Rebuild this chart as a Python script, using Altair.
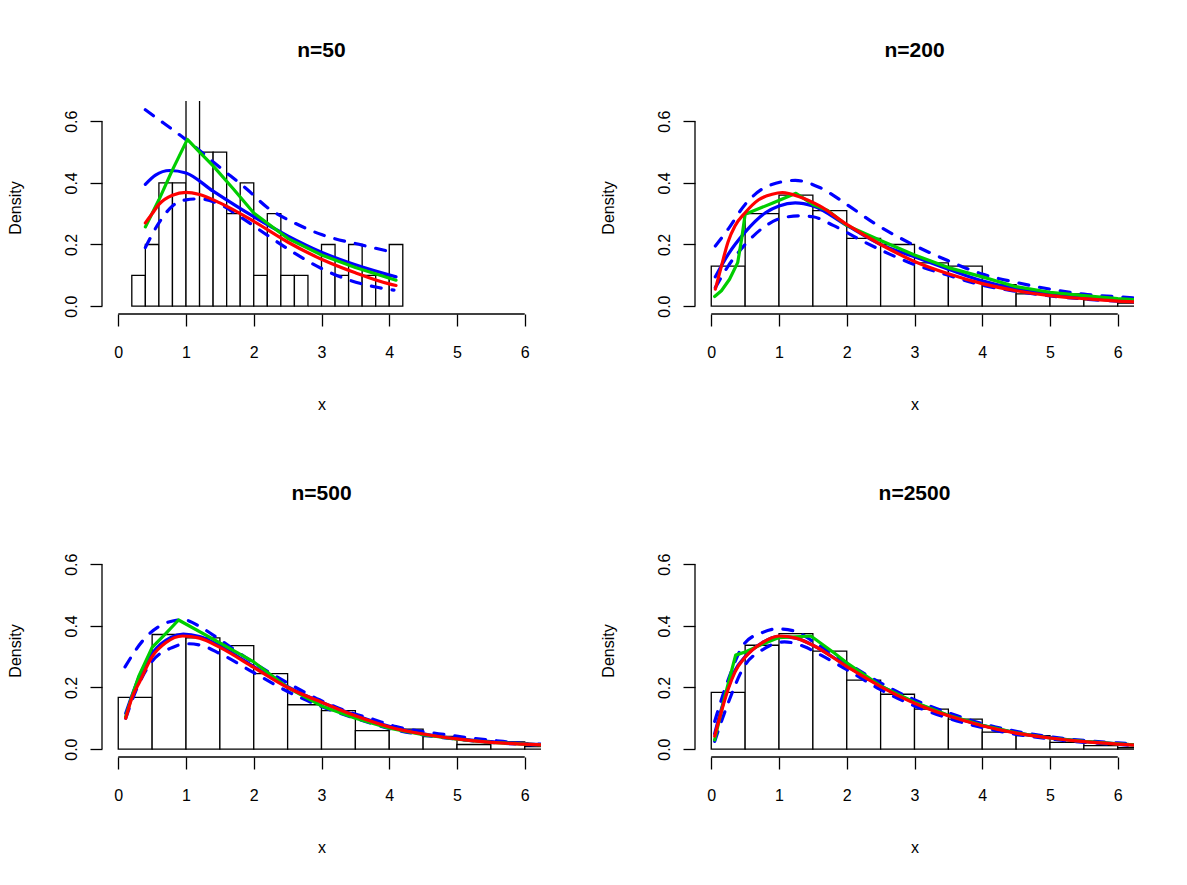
import altair as alt
import pandas as pd

FONT = "Liberation Sans"
TITLES = ["n=50", "n=200", "n=500", "n=2500"]

# histogram bins (left, right edges) and densities
P1_LEFT = [0.2, 0.4, 0.6, 0.8, 1.0, 1.2, 1.4, 1.6, 1.8, 2.0, 2.2, 2.4, 2.6, 2.8, 3.0, 3.2, 3.4, 3.6, 3.8, 4.0]
P1_RIGHT = [0.4, 0.6, 0.8, 1.0, 1.2, 1.4, 1.6, 1.8, 2.0, 2.2, 2.4, 2.6, 2.8, 3.0, 3.2, 3.4, 3.6, 3.8, 4.0, 4.2]
P1_DENS = [0.1, 0.2, 0.4, 0.4, 0.7, 0.5, 0.5, 0.3, 0.4, 0.1, 0.3, 0.1, 0.1, 0.0, 0.2, 0.1, 0.2, 0.1, 0.1, 0.2]

H_LEFT = [0.0, 0.5, 1.0, 1.5, 2.0, 2.5, 3.0, 3.5, 4.0, 4.5, 5.0, 5.5, 6.0]
H_RIGHT = [0.5, 1.0, 1.5, 2.0, 2.5, 3.0, 3.5, 4.0, 4.5, 5.0, 5.5, 6.0, 6.5]
P2_DENS = [0.13, 0.30, 0.36, 0.31, 0.22, 0.20, 0.14, 0.13, 0.07, 0.04, 0.04, 0.02, 0.01]
P3_DENS = [0.168, 0.372, 0.361, 0.336, 0.245, 0.144, 0.125, 0.060, 0.065, 0.041, 0.015, 0.023, 0.008]
P4_DENS = [0.184, 0.337, 0.375, 0.318, 0.224, 0.178, 0.130, 0.097, 0.055, 0.044, 0.022, 0.011, 0.005]

# curves: red = true density, blue = estimate, blue dashed = bands, green = other estimate
P1_RED_X = [0.4, 0.5, 0.6, 0.8, 1.0, 1.2, 1.5, 2.0, 2.5, 3.0, 3.5, 4.0, 4.1]
P1_RED_Y = [0.27, 0.30, 0.33, 0.36, 0.369, 0.362, 0.335, 0.275, 0.208, 0.152, 0.108, 0.072, 0.067]
P1_BLUE_X = [0.4, 0.55, 0.76, 1.0, 1.4, 2.0, 2.5, 3.0, 3.5, 4.1]
P1_BLUE_Y = [0.395, 0.425, 0.44, 0.432, 0.373, 0.29, 0.228, 0.175, 0.134, 0.095]
P1_GREEN_X = [0.4, 0.6, 0.8, 1.02, 1.2, 1.4, 1.7, 2.0, 2.5, 3.0, 3.5, 4.1]
P1_GREEN_Y = [0.257, 0.345, 0.442, 0.541, 0.50, 0.455, 0.38, 0.302, 0.22, 0.166, 0.125, 0.084]
P1_HI_X = [0.4, 0.6, 0.8, 1.0, 1.2, 1.5, 1.9, 2.2, 2.6, 3.0, 3.6, 4.07]
P1_HI_Y = [0.637, 0.605, 0.573, 0.54, 0.505, 0.45, 0.379, 0.32, 0.27, 0.232, 0.198, 0.174]
P1_LO_X = [0.4, 0.6, 0.8, 1.0, 1.2, 1.5, 1.8, 2.2, 2.6, 3.0, 3.4, 3.8, 4.07]
P1_LO_Y = [0.19, 0.27, 0.325, 0.345, 0.348, 0.33, 0.29, 0.23, 0.172, 0.122, 0.085, 0.062, 0.052]

P2_RED_X = [0.06, 0.15, 0.25, 0.35, 0.5, 0.7, 0.9, 1.05, 1.3, 1.6, 2.0, 2.5, 3.0, 3.5, 4.0, 4.5, 5.0, 5.5, 6.0, 6.3]
P2_RED_Y = [0.055, 0.13, 0.21, 0.26, 0.303, 0.345, 0.363, 0.368, 0.355, 0.325, 0.265, 0.2, 0.145, 0.105, 0.073, 0.05, 0.034, 0.024, 0.016, 0.013]
P2_BLUE_X = [0.06, 0.25, 0.5, 0.8, 1.0, 1.24, 1.5, 2.0, 2.5, 3.0, 3.5, 4.0, 4.5, 5.0, 5.5, 6.0, 6.3]
P2_BLUE_Y = [0.095, 0.168, 0.24, 0.303, 0.325, 0.335, 0.325, 0.262, 0.2, 0.16, 0.12, 0.082, 0.056, 0.04, 0.027, 0.019, 0.016]
P2_GREEN_X = [0.05, 0.15, 0.27, 0.39, 0.45, 0.5, 0.9, 1.25, 1.5, 1.72, 2.0, 2.5, 3.0, 3.5, 4.0, 4.5, 5.0, 5.5, 6.0, 6.3]
P2_GREEN_Y = [0.031, 0.05, 0.087, 0.141, 0.22, 0.298, 0.334, 0.366, 0.33, 0.31, 0.262, 0.213, 0.166, 0.125, 0.095, 0.063, 0.045, 0.034, 0.024, 0.02]
P2_HI_X = [0.06, 0.25, 0.5, 0.83, 1.24, 1.6, 2.0, 2.4, 3.0, 3.5, 4.0, 4.5, 5.0, 5.5, 6.0, 6.3]
P2_HI_Y = [0.195, 0.25, 0.33, 0.389, 0.408, 0.385, 0.33, 0.27, 0.197, 0.147, 0.104, 0.077, 0.055, 0.039, 0.03, 0.026]
P2_LO_X = [0.06, 0.25, 0.5, 0.8, 1.0, 1.3, 1.5, 1.8, 2.2, 2.6, 3.0, 3.5, 4.0, 4.5, 5.0, 5.5, 6.0, 6.3]
P2_LO_Y = [0.06, 0.13, 0.2, 0.26, 0.283, 0.293, 0.29, 0.262, 0.215, 0.172, 0.135, 0.1, 0.068, 0.048, 0.033, 0.023, 0.016, 0.014]

P3_RED_X = [0.11, 0.2, 0.32, 0.5, 0.7, 0.95, 1.2, 1.5, 2.0, 2.5, 3.0, 3.5, 4.0, 4.5, 5.0, 5.5, 6.0, 6.3]
P3_RED_Y = [0.10, 0.165, 0.22, 0.30, 0.345, 0.367, 0.36, 0.33, 0.265, 0.2, 0.152, 0.108, 0.072, 0.049, 0.033, 0.022, 0.016, 0.013]
P3_BLUE_X = [0.11, 0.32, 0.52, 0.77, 0.96, 1.2, 1.5, 2.0, 2.5, 3.0, 3.5, 4.0, 4.5, 5.0, 5.5, 6.0, 6.3]
P3_BLUE_Y = [0.116, 0.24, 0.316, 0.362, 0.373, 0.365, 0.335, 0.268, 0.203, 0.152, 0.11, 0.074, 0.05, 0.034, 0.024, 0.017, 0.014]
P3_GREEN_X = [0.11, 0.2, 0.3, 0.5, 0.7, 0.89, 1.5, 2.0, 2.5, 3.0, 3.5, 4.0, 4.5, 5.0, 5.5, 6.0, 6.3]
P3_GREEN_Y = [0.105, 0.17, 0.235, 0.33, 0.375, 0.419, 0.345, 0.283, 0.2, 0.14, 0.1, 0.068, 0.047, 0.032, 0.022, 0.016, 0.013]
P3_HI_X = [0.1, 0.37, 0.69, 0.96, 1.23, 1.5, 2.0, 2.5, 2.97, 3.41, 3.76, 4.1, 4.5, 4.83, 5.2, 5.55, 5.95, 6.3]
P3_HI_Y = [0.267, 0.354, 0.408, 0.42, 0.394, 0.355, 0.28, 0.215, 0.16, 0.12, 0.097, 0.073, 0.057, 0.047, 0.036, 0.028, 0.019, 0.016]
P3_LO_X = [0.11, 0.3, 0.5, 0.8, 1.0, 1.2, 1.5, 2.0, 2.5, 3.0, 3.5, 4.0, 4.5, 5.0, 5.5, 6.0, 6.3]
P3_LO_Y = [0.10, 0.21, 0.285, 0.33, 0.342, 0.338, 0.31, 0.248, 0.187, 0.138, 0.1, 0.067, 0.046, 0.032, 0.022, 0.015, 0.013]

P4_RED_X = [0.05, 0.15, 0.25, 0.35, 0.5, 0.75, 1.0, 1.25, 1.5, 2.0, 2.5, 3.0, 3.5, 4.0, 4.5, 5.0, 5.5, 6.0, 6.3]
P4_RED_Y = [0.042, 0.122, 0.195, 0.25, 0.298, 0.345, 0.367, 0.36, 0.337, 0.268, 0.203, 0.149, 0.108, 0.076, 0.052, 0.036, 0.024, 0.016, 0.012]
P4_BLUE_X = [0.05, 0.15, 0.25, 0.35, 0.5, 0.75, 1.0, 1.25, 1.5, 2.0, 2.5, 3.0, 3.5, 4.0, 4.5, 5.0, 5.5, 6.0, 6.3]
P4_BLUE_Y = [0.05, 0.13, 0.2, 0.255, 0.3, 0.345, 0.366, 0.36, 0.337, 0.27, 0.205, 0.151, 0.109, 0.077, 0.053, 0.037, 0.025, 0.017, 0.013]
P4_GREEN_X = [0.05, 0.2, 0.36, 0.5, 0.75, 1.0, 1.47, 1.82, 2.0, 2.5, 3.0, 3.5, 4.0, 4.5, 5.0, 5.5, 6.0, 6.3]
P4_GREEN_Y = [0.03, 0.17, 0.305, 0.315, 0.34, 0.362, 0.367, 0.311, 0.28, 0.205, 0.152, 0.11, 0.077, 0.053, 0.036, 0.025, 0.017, 0.013]
P4_HI_X = [0.05, 0.25, 0.49, 0.75, 0.96, 1.23, 1.5, 2.0, 2.5, 2.9, 3.5, 4.0, 4.5, 5.0, 5.5, 6.0, 6.3]
P4_HI_Y = [0.09, 0.225, 0.343, 0.378, 0.39, 0.383, 0.35, 0.28, 0.215, 0.17, 0.118, 0.083, 0.058, 0.04, 0.028, 0.02, 0.016]
P4_LO_X = [0.05, 0.25, 0.49, 0.74, 1.08, 1.37, 1.62, 2.0, 2.5, 3.0, 3.5, 4.0, 4.5, 5.0, 5.5, 6.0, 6.3]
P4_LO_Y = [0.025, 0.15, 0.27, 0.32, 0.348, 0.333, 0.305, 0.258, 0.193, 0.14, 0.1, 0.07, 0.048, 0.033, 0.022, 0.015, 0.011]

X_TICKS = [0, 1, 2, 3, 4, 5, 6]
Y_TICKS = [0.0, 0.1, 0.2, 0.3, 0.4, 0.5, 0.6]

PANELS = [
    dict(title=TITLES[0], left=P1_LEFT, right=P1_RIGHT, dens=P1_DENS,
         red=(P1_RED_X, P1_RED_Y), blue=(P1_BLUE_X, P1_BLUE_Y), green=(P1_GREEN_X, P1_GREEN_Y),
         hi=(P1_HI_X, P1_HI_Y), lo=(P1_LO_X, P1_LO_Y)),
    dict(title=TITLES[1], left=H_LEFT, right=H_RIGHT, dens=P2_DENS,
         red=(P2_RED_X, P2_RED_Y), blue=(P2_BLUE_X, P2_BLUE_Y), green=(P2_GREEN_X, P2_GREEN_Y),
         hi=(P2_HI_X, P2_HI_Y), lo=(P2_LO_X, P2_LO_Y)),
    dict(title=TITLES[2], left=H_LEFT, right=H_RIGHT, dens=P3_DENS,
         red=(P3_RED_X, P3_RED_Y), blue=(P3_BLUE_X, P3_BLUE_Y), green=(P3_GREEN_X, P3_GREEN_Y),
         hi=(P3_HI_X, P3_HI_Y), lo=(P3_LO_X, P3_LO_Y)),
    dict(title=TITLES[3], left=H_LEFT, right=H_RIGHT, dens=P4_DENS,
         red=(P4_RED_X, P4_RED_Y), blue=(P4_BLUE_X, P4_BLUE_Y), green=(P4_GREEN_X, P4_GREEN_Y),
         hi=(P4_HI_X, P4_HI_Y), lo=(P4_LO_X, P4_LO_Y)),
]

W, H = 439, 213
XMIN, XMAX = -0.24, 6.24
YMIN, YMAX = -0.0256, 0.6656

xscale = alt.Scale(domain=[XMIN, XMAX], nice=False, zero=False)
yscale = alt.Scale(domain=[YMIN, YMAX], nice=False, zero=False)

xaxis = alt.Axis(values=X_TICKS, format="d", title="x", domain=False, grid=False,
                 tickSize=12, tickWidth=1.3, tickColor="black",
                 labelFont=FONT, labelFontSize=16, labelColor="black", labelPadding=18,
                 labelFlush=False, labelOverlap=False,
                 titleFont=FONT, titleFontSize=16, titleFontWeight="normal", titleColor="black",
                 titleX=W / 2, titleY=90, titleBaseline="middle", titleAlign="center")
yaxis = alt.Axis(values=Y_TICKS, title="Density", domain=False, grid=False,
                 labelExpr="round(datum.value*10) % 2 == 0 ? format(datum.value, '.1f') : ''",
                 tickSize=12, tickWidth=1.3, tickColor="black",
                 labelFont=FONT, labelFontSize=16, labelColor="black", labelPadding=14,
                 labelAngle=270, labelAlign="center", labelBaseline="alphabetic",
                 labelFlush=False, labelOverlap=False,
                 titleFont=FONT, titleFontSize=16, titleFontWeight="normal", titleColor="black",
                 titleAngle=270, titleX=-87, titleY=H / 2, titleBaseline="middle", titleAlign="center")


def X(field):
    return alt.X(field, type="quantitative", scale=xscale, axis=xaxis)


def Y(field):
    return alt.Y(field, type="quantitative", scale=yscale, axis=yaxis)


def panel(p):
    hist = pd.DataFrame({"x0": p["left"], "x1": p["right"], "d": p["dens"]})
    bars = alt.Chart(hist).mark_rect(fill="white", stroke="black", strokeWidth=1.3, clip=True).encode(
        x=X("x0"), x2="x1", y=Y("d"), y2=alt.datum(0)
    )
    rows = []
    for key in ["lo", "hi", "blue", "green", "red"]:
        xs, ys = p[key]
        for i, (a, b) in enumerate(zip(xs, ys)):
            rows.append({"curve": key, "i": i, "x": a, "y": b})
    cdf = pd.DataFrame(rows)

    def line(keys, color, dash=None, interp="monotone"):
        kw = dict(color=color, strokeWidth=3.2, clip=True, interpolate=interp,
                  strokeCap="round", strokeJoin="round")
        if dash:
            kw["strokeDash"] = dash
        return alt.Chart(cdf).transform_filter(
            alt.FieldOneOfPredicate(field="curve", oneOf=keys)
        ).mark_line(**kw).encode(x=X("x"), y=Y("y"), detail="curve:N", order="i:Q")

    dashed = line(["lo", "hi"], "#0000FF", dash=[10, 11])
    blue = line(["blue"], "#0000FF")
    green = line(["green"], "#00CD00", interp="linear")
    red = line(["red"], "#FF0000")

    xline = alt.Chart(pd.DataFrame({"a": [X_TICKS[0]], "b": [X_TICKS[-1]]})).mark_rule(
        color="black", strokeWidth=1.3).encode(x=X("a"), x2="b", y=alt.datum(YMIN))
    yline = alt.Chart(pd.DataFrame({"a": [Y_TICKS[0]], "b": [Y_TICKS[-1]]})).mark_rule(
        color="black", strokeWidth=1.3).encode(y=Y("a"), y2="b", x=alt.datum(XMIN))

    return alt.layer(bars, dashed, blue, green, red, xline, yline).properties(
        width=W, height=H,
        title=alt.TitleParams(p["title"], font=FONT, fontSize=21, fontWeight="bold", color="black",
                              anchor="middle", frame="group", offset=19, baseline="bottom"),
    )


chart = alt.concat(*[panel(p) for p in PANELS], columns=2,
                   spacing={"row": 230, "column": 154}, bounds="flush").properties(
    padding={"left": 7, "top": 40, "right": 5, "bottom": 5},
    background="white",
).configure_view(stroke=None)

chart.save("out.html", embed_options={"renderer": "svg", "actions": False})
